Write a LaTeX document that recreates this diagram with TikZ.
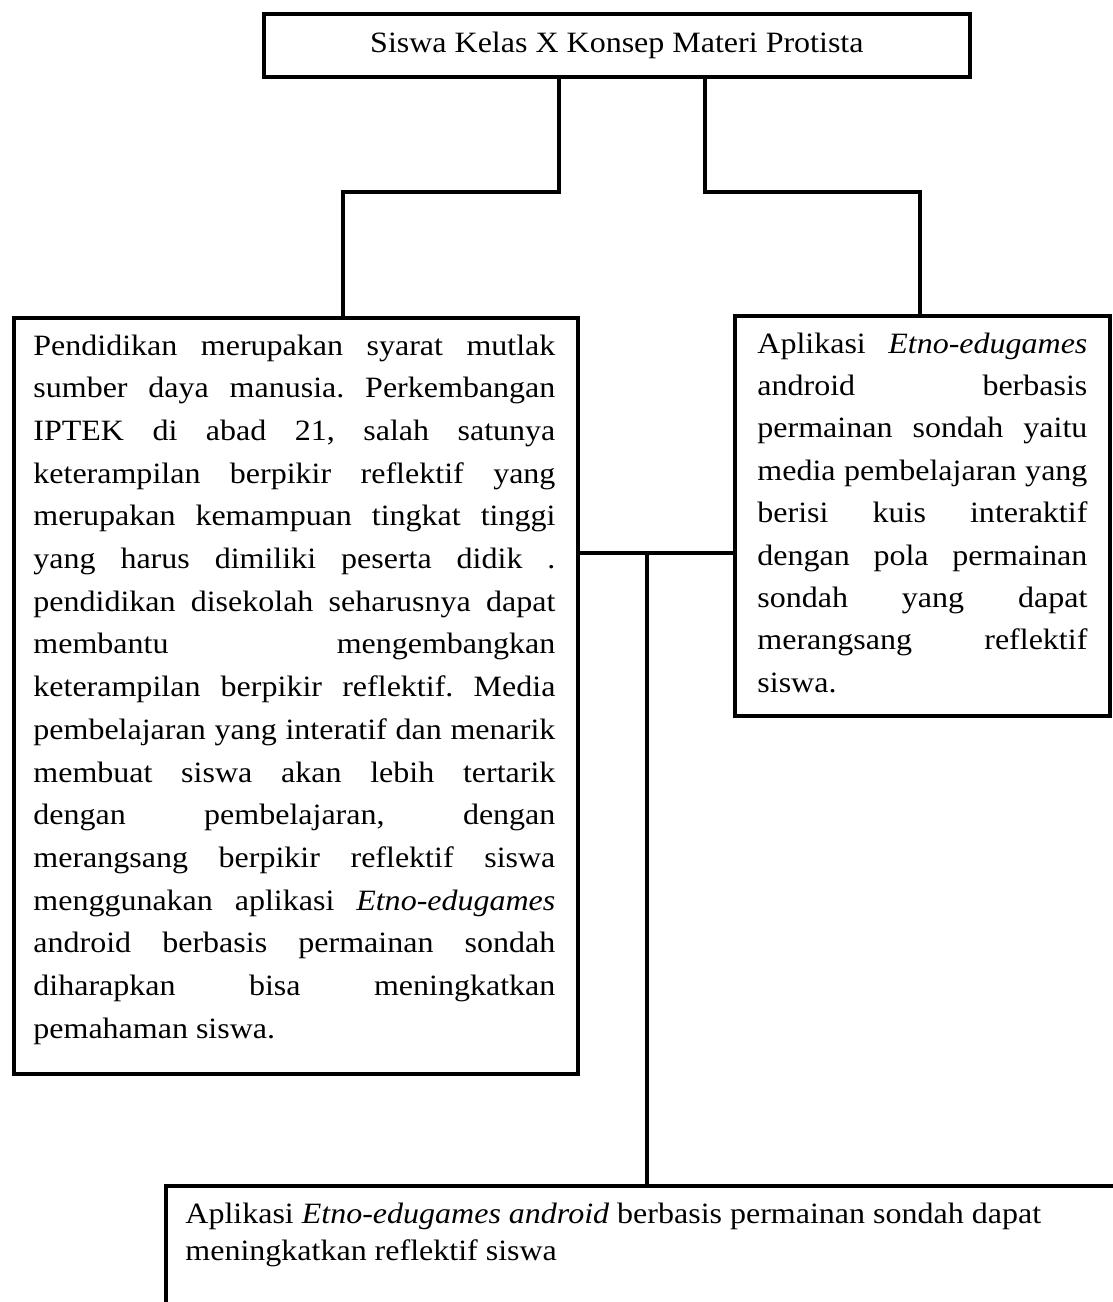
\documentclass[tikz,border=0pt]{standalone}
\usepackage{fontspec}
\setmainfont{Liberation Serif}[FakeStretch=1.085]
\frenchspacing
\newcommand\myjust[1]{\hbox to \hsize{#1}}
\newcommand\myleft[1]{\hbox to \hsize{#1\hfil}}
\tikzset{
  boxstyle/.style={draw=black, line width=1.9pt, rectangle, inner sep=0pt, anchor=north west},
  txtstyle/.style={inner sep=0pt, anchor=base west, font=\fontsize{14.75pt}{21.35pt}\selectfont\frenchspacing},
  wire/.style={draw=black, line width=1.9pt, line cap=rect},
}
\begin{document}
\begin{tikzpicture}[x=0.5pt, y=-0.5pt]
\clip (0,0) rectangle (1113,1302);
\fill[white] (0,0) rectangle (1113,1302);
% boxes
\node[boxstyle, minimum width=353pt, minimum height=31.5pt] (top) at (262,12) {};
\node[boxstyle, minimum width=282pt, minimum height=378pt] (left) at (12,316) {};
\node[boxstyle, minimum width=187.5pt, minimum height=200pt] (right) at (733,314) {};
\node[boxstyle, minimum width=488pt, minimum height=80pt] (bottom) at (164,1184) {};
% texts
\node[inner sep=0pt, font=\fontsize{14.75pt}{21.35pt}\selectfont] (toptext) at (top.center) {Siswa Kelas X Konsep Materi Protista};
\node[txtstyle] (lefttext) at (33,355) {\parbox[t]{261pt}{\frenchspacing\baselineskip=21.35pt\lineskiplimit=-100pt\lineskip=0pt
\myjust{Pendidikan merupakan syarat mutlak}
\myjust{sumber daya manusia. Perkembangan}
\myjust{IPTEK di abad 21, salah satunya}
\myjust{keterampilan berpikir reflektif yang}
\myjust{merupakan kemampuan tingkat tinggi}
\myjust{yang harus dimiliki peserta didik .}
\myjust{pendidikan disekolah seharusnya dapat}
\myjust{membantu mengembangkan}
\myjust{keterampilan berpikir reflektif. Media}
\myjust{pembelajaran yang interatif dan menarik}
\myjust{membuat siswa akan lebih tertarik}
\myjust{dengan pembelajaran, dengan}
\myjust{merangsang berpikir reflektif siswa}
\myjust{menggunakan aplikasi \textit{Etno-edugames}}
\myjust{android berbasis permainan sondah}
\myjust{diharapkan bisa meningkatkan}
\myleft{pemahaman siswa.}}};
\node[txtstyle] (righttext) at (757,353) {\parbox[t]{165pt}{\frenchspacing\baselineskip=21.2pt\lineskiplimit=-100pt\lineskip=0pt
\myjust{Aplikasi \textit{Etno-edugames}}
\myjust{android berbasis}
\myjust{permainan sondah yaitu}
\myjust{media pembelajaran yang}
\myjust{berisi kuis interaktif}
\myjust{dengan pola permainan}
\myjust{sondah yang dapat}
\myjust{merangsang reflektif}
\myleft{siswa.}}};
\node[txtstyle] (bottomtext) at (185,1223) {\parbox[t]{450pt}{\frenchspacing\baselineskip=18.5pt\lineskiplimit=-100pt\lineskip=0pt
\myleft{Aplikasi \textit{Etno-edugames android} berbasis permainan sondah dapat}
\myleft{meningkatkan reflektif siswa}}};
% connectors
\coordinate (ja) at (559,192);
\coordinate (jb) at (343,192);
\coordinate (jc) at (705,192);
\coordinate (jd) at (920,192);
\coordinate (m) at (647,553);
\draw[wire] (ja |- top.south) -- (ja) -- (jb) -- (jb |- left.north);
\draw[wire] (jc |- top.south) -- (jc) -- (jd) -- (jd |- right.north);
\draw[wire] (left.east |- m) -- (right.west |- m);
\draw[wire] (m) -- (m |- bottom.north);
\end{tikzpicture}
\end{document}
